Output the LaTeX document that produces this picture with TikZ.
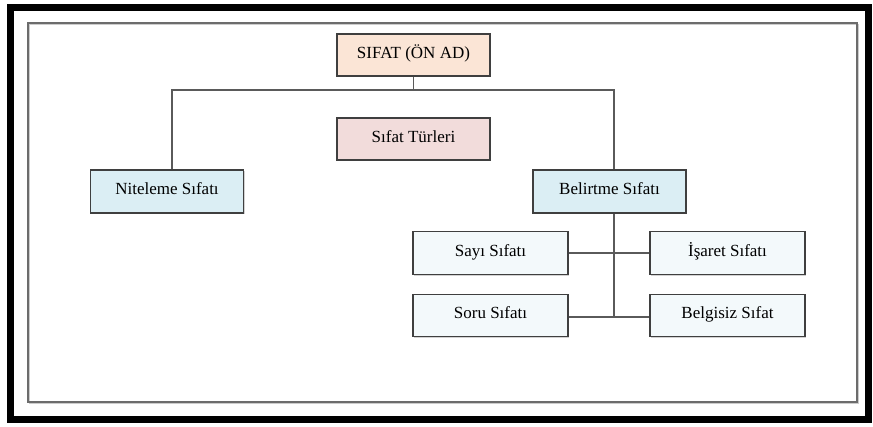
\documentclass[tikz,border=0pt]{standalone}
\usepackage{fontspec}
\setmainfont{Liberation Serif}
\definecolor{peach}{HTML}{FBE5D6}
\definecolor{pinkbox}{HTML}{F2DCDB}
\definecolor{bluebox}{HTML}{DBEEF4}
\definecolor{palebox}{HTML}{F3F9FB}
\definecolor{edge}{HTML}{3F3F3F}
\definecolor{wire}{HTML}{5A5A5A}
\tikzset{
  box/.style={draw=edge, line width=1.4pt, minimum width=153pt, minimum height=42pt,
    inner sep=0pt, text height=12pt, text depth=6pt, font=\fontsize{17}{20}\selectfont,
    preaction={fill=black!35, opacity=0.5, transform canvas={shift={(1.2pt,-1.4pt)}}}},
  wireline/.style={draw=wire, line width=1.5pt},
}
\begin{document}
\begin{tikzpicture}[x=1pt,y=-1pt]
\useasboundingbox (0,0) rectangle (873,426);
\fill[white] (0,0) rectangle (873,426);
% outer black frame
\draw[black, line width=7pt] (10.5,7.5) rectangle (868.5,419.5);
% inner gray frame
\draw[gray!40, line width=1.2pt] (29.5,24.5) rectangle (858.5,403.5);
\draw[gray!85!black, line width=1.2pt] (28,23) rectangle (857,402);
% nodes
\node[box, fill=peach] (top) at (413.5,55) {SIFAT (ÖN AD)};
\node[box, fill=pinkbox] (types) at (413.5,139) {Sıfat Türleri};
\node[box, fill=bluebox, minimum height=43pt] (nit) at (167,191.5) {Niteleme Sıfatı};
\node[box, fill=bluebox, minimum height=43pt] (bel) at (609.5,191.5) {Belirtme Sıfatı};
\node[box, fill=palebox, minimum width=155pt, minimum height=43pt] (sayi) at (490.5,253) {Sayı Sıfatı};
\node[box, fill=palebox, minimum width=155pt, minimum height=43pt] (isaret) at (727.5,253) {İşaret Sıfatı};
\node[box, fill=palebox, minimum width=155pt, minimum height=42pt] (soru) at (490.5,315.5) {Soru Sıfatı};
\node[box, fill=palebox, minimum width=155pt, minimum height=42pt] (belg) at (727.5,315.5) {Belgisiz Sıfat};
% connectors
\coordinate (busM) at (413.5,90);
\coordinate (busL) at (172,90);
\coordinate (busR) at (614,90);
\coordinate (spineEnd) at (614,317);
\draw[wireline] (top.south) -- (busM);
\draw[wireline] (busL |- nit.north) -- (busL) -- (busR) -- (busR |- bel.north);
\draw[wireline] (busR |- bel.south) -- (spineEnd);
\draw[wireline] (sayi.east) -- (isaret.west);
\draw[wireline] (soru.east |- spineEnd) -- (belg.west |- spineEnd);
\end{tikzpicture}
\end{document}
